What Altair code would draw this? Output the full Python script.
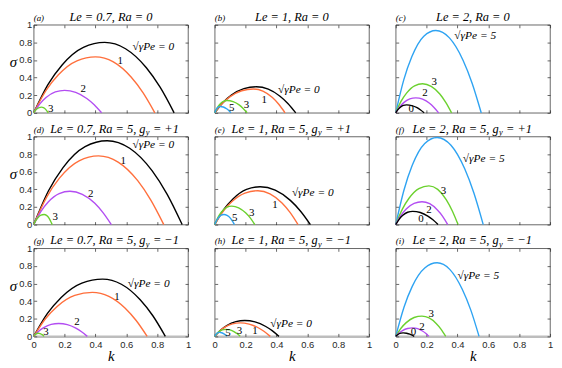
import altair as alt
import pandas as pd

W, H = 156, 89

PANEL_IDS = ["a", "b", "c", "d", "e", "f", "g", "h", "i"]
PE_ORDER = ["0", "1", "2", "3", "5"]
PE_COLORS = ["#000000", "#FF6F3C", "#B34DF2", "#6BD12E", "#2EA3F2"]
TICK_VALUES = [0, 0.2, 0.4, 0.6, 0.8, 1]

# ---- growth-rate curves sigma(k): {Pe: (k, sigma)} ----
curves_a = {
    "0": ([0, 0.092, 0.184, 0.322, 0.46, 0.595, 0.73, 0.82, 0.91],
          [0, 0.32, 0.544, 0.744, 0.80, 0.728, 0.512, 0.288, 0]),
    "1": ([0, 0.08, 0.16, 0.28, 0.40, 0.516, 0.631, 0.708, 0.785],
          [0, 0.254, 0.432, 0.591, 0.635, 0.578, 0.406, 0.229, 0]),
    "2": ([0, 0.04, 0.08, 0.14, 0.20, 0.272, 0.344, 0.392, 0.44],
          [0, 0.102, 0.173, 0.237, 0.255, 0.232, 0.163, 0.092, 0]),
    "3": ([0, 0.01, 0.02, 0.035, 0.05, 0.063, 0.076, 0.085, 0.094],
          [0, 0.026, 0.044, 0.06, 0.065, 0.059, 0.042, 0.023, 0]),
}
curves_b = {
    "0": ([0, 0.054, 0.108, 0.189, 0.27, 0.347, 0.423, 0.474, 0.525],
          [0, 0.118, 0.201, 0.275, 0.296, 0.269, 0.189, 0.107, 0]),
    "1": ([0, 0.05, 0.10, 0.175, 0.25, 0.312, 0.374, 0.415, 0.456],
          [0, 0.108, 0.184, 0.251, 0.27, 0.246, 0.173, 0.097, 0]),
    "3": ([0, 0.016, 0.032, 0.056, 0.08, 0.119, 0.158, 0.184, 0.21],
          [0, 0.056, 0.095, 0.13, 0.14, 0.127, 0.09, 0.05, 0]),
    "5": ([0, 0.007, 0.014, 0.025, 0.035, 0.056, 0.077, 0.091, 0.105],
          [0, 0.029, 0.049, 0.067, 0.072, 0.066, 0.046, 0.026, 0]),
}
curves_c = {
    "5": ([0, 0.052, 0.104, 0.182, 0.26, 0.348, 0.436, 0.495, 0.554],
          [0, 0.374, 0.636, 0.87, 0.935, 0.851, 0.598, 0.337, 0]),
    "3": ([0, 0.035, 0.07, 0.122, 0.174, 0.23, 0.287, 0.324, 0.362],
          [0, 0.132, 0.224, 0.307, 0.33, 0.30, 0.211, 0.119, 0]),
    "2": ([0, 0.026, 0.052, 0.091, 0.13, 0.174, 0.219, 0.248, 0.278],
          [0, 0.068, 0.116, 0.158, 0.17, 0.155, 0.109, 0.061, 0]),
    "0": ([0, 0.014, 0.028, 0.049, 0.07, 0.104, 0.138, 0.161, 0.184],
          [0, 0.036, 0.061, 0.084, 0.09, 0.082, 0.058, 0.032, 0]),
}
curves_d = {
    "0": ([0, 0.095, 0.19, 0.333, 0.476, 0.622, 0.768, 0.865, 0.962],
          [0, 0.381, 0.648, 0.886, 0.953, 0.867, 0.61, 0.343, 0]),
    "1": ([0, 0.084, 0.168, 0.294, 0.42, 0.547, 0.674, 0.758, 0.843],
          [0, 0.312, 0.53, 0.725, 0.78, 0.71, 0.499, 0.281, 0]),
    "2": ([0, 0.047, 0.094, 0.165, 0.235, 0.315, 0.396, 0.449, 0.503],
          [0, 0.151, 0.257, 0.352, 0.378, 0.344, 0.242, 0.136, 0]),
    "3": ([0, 0.013, 0.027, 0.047, 0.067, 0.083, 0.099, 0.109, 0.12],
          [0, 0.046, 0.078, 0.107, 0.115, 0.105, 0.074, 0.041, 0]),
}
curves_e = {
    "0": ([0, 0.059, 0.118, 0.206, 0.294, 0.392, 0.49, 0.555, 0.62],
          [0, 0.172, 0.292, 0.40, 0.43, 0.391, 0.275, 0.155, 0]),
    "1": ([0, 0.056, 0.112, 0.196, 0.28, 0.358, 0.436, 0.488, 0.54],
          [0, 0.154, 0.262, 0.358, 0.385, 0.35, 0.246, 0.139, 0]),
    "3": ([0, 0.022, 0.044, 0.077, 0.11, 0.155, 0.20, 0.23, 0.26],
          [0, 0.084, 0.143, 0.195, 0.21, 0.191, 0.134, 0.076, 0]),
    "5": ([0, 0.012, 0.024, 0.042, 0.06, 0.08, 0.101, 0.114, 0.128],
          [0, 0.046, 0.078, 0.107, 0.115, 0.105, 0.074, 0.041, 0]),
}
curves_f = {
    "5": ([0, 0.054, 0.107, 0.188, 0.268, 0.358, 0.447, 0.507, 0.567],
          [0, 0.396, 0.673, 0.921, 0.99, 0.901, 0.634, 0.356, 0]),
    "3": ([0, 0.043, 0.086, 0.15, 0.215, 0.272, 0.328, 0.366, 0.404],
          [0, 0.176, 0.299, 0.409, 0.44, 0.40, 0.282, 0.158, 0]),
    "2": ([0, 0.034, 0.068, 0.119, 0.17, 0.22, 0.27, 0.304, 0.337],
          [0, 0.104, 0.177, 0.242, 0.26, 0.237, 0.166, 0.094, 0]),
    "0": ([0, 0.022, 0.044, 0.077, 0.11, 0.159, 0.208, 0.241, 0.274],
          [0, 0.06, 0.102, 0.14, 0.15, 0.137, 0.096, 0.054, 0]),
}
curves_g = {
    "0": ([0, 0.089, 0.178, 0.312, 0.446, 0.568, 0.69, 0.772, 0.853],
          [0, 0.26, 0.442, 0.605, 0.65, 0.592, 0.416, 0.234, 0]),
    "1": ([0, 0.076, 0.152, 0.266, 0.38, 0.487, 0.593, 0.664, 0.735],
          [0, 0.20, 0.34, 0.465, 0.50, 0.455, 0.32, 0.18, 0]),
    "2": ([0, 0.032, 0.065, 0.113, 0.162, 0.218, 0.273, 0.31, 0.347],
          [0, 0.058, 0.099, 0.136, 0.146, 0.133, 0.093, 0.053, 0]),
    "3": ([0, 0.006, 0.012, 0.021, 0.03, 0.041, 0.052, 0.06, 0.067],
          [0, 0.014, 0.024, 0.033, 0.035, 0.032, 0.022, 0.013, 0]),
}
curves_h = {
    "0": ([0, 0.039, 0.078, 0.137, 0.195, 0.261, 0.328, 0.372, 0.416],
          [0, 0.072, 0.122, 0.167, 0.18, 0.164, 0.115, 0.065, 0]),
    "1": ([0, 0.033, 0.066, 0.115, 0.164, 0.223, 0.282, 0.321, 0.36],
          [0, 0.061, 0.104, 0.142, 0.153, 0.139, 0.098, 0.055, 0]),
    "3": ([0, 0.014, 0.028, 0.049, 0.07, 0.099, 0.127, 0.146, 0.165],
          [0, 0.032, 0.054, 0.074, 0.08, 0.073, 0.051, 0.029, 0]),
    "5": ([0, 0.006, 0.012, 0.021, 0.03, 0.045, 0.06, 0.07, 0.08],
          [0, 0.018, 0.031, 0.042, 0.045, 0.041, 0.029, 0.016, 0]),
}
curves_i = {
    "5": ([0, 0.054, 0.107, 0.188, 0.268, 0.35, 0.431, 0.486, 0.54],
          [0, 0.334, 0.568, 0.777, 0.836, 0.761, 0.535, 0.301, 0]),
    "3": ([0, 0.034, 0.068, 0.119, 0.17, 0.216, 0.262, 0.293, 0.324],
          [0, 0.092, 0.156, 0.214, 0.23, 0.209, 0.147, 0.083, 0]),
    "2": ([0, 0.022, 0.044, 0.077, 0.11, 0.142, 0.173, 0.194, 0.215],
          [0, 0.038, 0.065, 0.089, 0.096, 0.087, 0.061, 0.035, 0]),
    "0": ([0, 0.01, 0.019, 0.034, 0.048, 0.07, 0.091, 0.106, 0.12],
          [0, 0.016, 0.027, 0.037, 0.04, 0.036, 0.026, 0.014, 0]),
}
curve_sets = {"a": curves_a, "b": curves_b, "c": curves_c, "d": curves_d, "e": curves_e,
              "f": curves_f, "g": curves_g, "h": curves_h, "i": curves_i}

# ---- panel titles ----
titles_plain = {"a": "Le = 0.7, Ra = 0", "b": "Le = 1, Ra = 0", "c": "Le = 2, Ra = 0"}
titles_sub = {
    "d": ("Le = 0.7, Ra = 5, g", "y", "= +1"),
    "e": ("Le = 1, Ra = 5, g", "y", "= +1"),
    "f": ("Le = 2, Ra = 5, g", "y", "= +1"),
    "g": ("Le = 0.7, Ra = 5, g", "y", "= \u22121"),
    "h": ("Le = 1, Ra = 5, g", "y", "= \u22121"),
    "i": ("Le = 2, Ra = 5, g", "y", "= \u22121"),
}
# pixel x where the subscript sits (layout, not data)
sub_x = {"d": 113, "e": 104, "f": 104, "g": 113, "h": 104, "i": 104}

# ---- curve annotations (k, sigma) ----
pe_labels = {
    "a": ("\u221a\u03b3Pe = 0", 0.64, 0.745),
    "b": ("\u221a\u03b3Pe = 0", 0.41, 0.26),
    "c": ("\u221a\u03b3Pe = 5", 0.38, 0.87),
    "d": ("\u221a\u03b3Pe = 0", 0.64, 0.90),
    "e": ("\u221a\u03b3Pe = 0", 0.50, 0.36),
    "f": ("\u221a\u03b3Pe = 5", 0.435, 0.74),
    "g": ("\u221a\u03b3Pe = 0", 0.61, 0.60),
    "h": ("\u221a\u03b3Pe = 0", 0.36, 0.14),
    "i": ("\u221a\u03b3Pe = 5", 0.40, 0.69),
}
num_labels = {
    "a": (["1", "2", "3"], [0.56, 0.32, 0.11], [0.59, 0.27, 0.04]),
    "b": (["1", "3", "5"], [0.32, 0.205, 0.11], [0.145, 0.09, 0.055]),
    "c": (["3", "2", "0"], [0.25, 0.19, 0.10], [0.35, 0.22, 0.045]),
    "d": (["1", "2", "3"], [0.58, 0.37, 0.14], [0.72, 0.35, 0.09]),
    "e": (["1", "3", "5"], [0.39, 0.24, 0.13], [0.22, 0.13, 0.07]),
    "f": (["3", "2", "0"], [0.31, 0.215, 0.163], [0.38, 0.17, 0.065]),
    "g": (["1", "2", "3"], [0.54, 0.28, 0.08], [0.45, 0.16, 0.045]),
    "h": (["1", "3", "5"], [0.26, 0.16, 0.085], [0.06, 0.06, 0.035]),
    "i": (["3", "2", "0"], [0.23, 0.17, 0.115], [0.25, 0.11, 0.045]),
}

SERIF = "Liberation Serif"
SANS = "Liberation Sans"
AX_COLOR = "#262626"
TITLE_SIZE = 12.5


def tick_axis(orient, offset):
    return alt.Axis(orient=orient, offset=offset, values=TICK_VALUES, labels=False,
                    domain=False, grid=False, ticks=True, tickSize=3,
                    tickColor=AX_COLOR, tickWidth=0.7, title=None)


def text_layer(txt, x, y, size, align="left", italic=True):
    kw = {"fontStyle": "italic"} if italic else {}
    return alt.Chart(pd.DataFrame({"t": [txt]})).mark_text(
        align=align, baseline="alphabetic", font=SERIF, fontSize=size, color="#000000", **kw
    ).encode(x=alt.value(x), y=alt.value(y), text="t:N")


def panel(pid, row, col):
    xs = alt.Scale(domain=[0, 1], nice=False, zero=False)
    ys = alt.Scale(domain=[0, 1], nice=False, zero=False)

    recs = []
    for pe, (ks, ss) in curve_sets[pid].items():
        for k, s in zip(ks, ss):
            recs.append({"pe": pe, "k": k, "s": s})
    df = pd.DataFrame(recs)

    if row == 2:
        x_axis = alt.Axis(orient="bottom", values=TICK_VALUES, format=".1~f", ticks=False,
                          domain=True, domainColor="#BDBDBD", domainWidth=2.5, grid=False,
                          labelFlush=False, labelPadding=3, labelFont=SANS, labelFontSize=9.5,
                          labelColor=AX_COLOR, title="k", titleFont=SERIF,
                          titleFontStyle="italic", titleFontWeight="normal", titleFontSize=15,
                          titlePadding=0, titleColor="#000000")
    else:
        x_axis = None
    if col == 0:
        y_axis = alt.Axis(orient="left", values=TICK_VALUES, format=".1~f", ticks=False,
                          domain=False, grid=False, labelFlush=False, labelPadding=2,
                          labelFont=SANS, labelFontSize=9.5, labelColor=AX_COLOR,
                          title="\u03c3", titleAngle=0, titleAlign="right",
                          titleBaseline="middle", titlePadding=2, titleY=H * 0.42,
                          titleFont=SERIF, titleFontStyle="italic", titleFontWeight="normal",
                          titleFontSize=15, titleColor="#000000")
    else:
        y_axis = None

    curves = alt.Chart(df).mark_line(strokeWidth=1.4, interpolate="monotone").encode(
        x=alt.X("k:Q", scale=xs, axis=x_axis),
        y=alt.Y("s:Q", scale=ys, axis=y_axis),
        color=alt.Color("pe:N", scale=alt.Scale(domain=PE_ORDER, range=PE_COLORS), legend=None),
        detail="pe:N",
    )

    t, lk, ls = pe_labels[pid]
    pe_df = pd.DataFrame({"t": [t], "k": [lk], "s": [ls]})
    pe_text = alt.Chart(pe_df).mark_text(align="left", baseline="middle", font=SERIF,
                                         fontStyle="italic", fontSize=11.5, color="#000000").encode(
        x=alt.X("k:Q", scale=xs, axis=tick_axis("top", -H)),
        y=alt.Y("s:Q", scale=ys, axis=tick_axis("right", -W)),
        text="t:N",
    )

    nt, nk, ns = num_labels[pid]
    num_df = pd.DataFrame({"t": nt, "k": nk, "s": ns})
    num_text = alt.Chart(num_df).mark_text(align="center", baseline="middle", font=SERIF,
                                           fontSize=11, color="#000000").encode(
        x=alt.X("k:Q", scale=xs, axis=tick_axis("bottom", -H)),
        y=alt.Y("s:Q", scale=ys, axis=tick_axis("left", -W)),
        text="t:N",
    )

    layers = [curves, pe_text, num_text, text_layer(f"({pid})", 0, -4, 9)]
    if pid in titles_plain:
        layers.append(text_layer(titles_plain[pid], W / 2, -4, TITLE_SIZE, align="center"))
    else:
        a, sub, c = titles_sub[pid]
        x0 = sub_x[pid]
        layers.append(text_layer(a, x0, -4, TITLE_SIZE, align="right"))
        layers.append(text_layer(sub, x0 + 0.3, -1.5, 8.5))
        layers.append(text_layer(c, x0 + 7.5, -4, TITLE_SIZE))

    return alt.layer(*layers).resolve_axis(x="independent", y="independent").properties(
        width=W, height=H)


panels = [panel(pid, idx // 3, idx % 3) for idx, pid in enumerate(PANEL_IDS)]

chart = alt.concat(*panels, columns=3, spacing={"row": 24, "column": 27}, bounds="flush").properties(
    padding={"left": 1, "top": 0, "right": 1, "bottom": 1},
    background="white",
).configure_view(stroke=AX_COLOR, strokeWidth=0.7)

chart.save("out.html", embed_options={"renderer": "svg", "actions": False})
